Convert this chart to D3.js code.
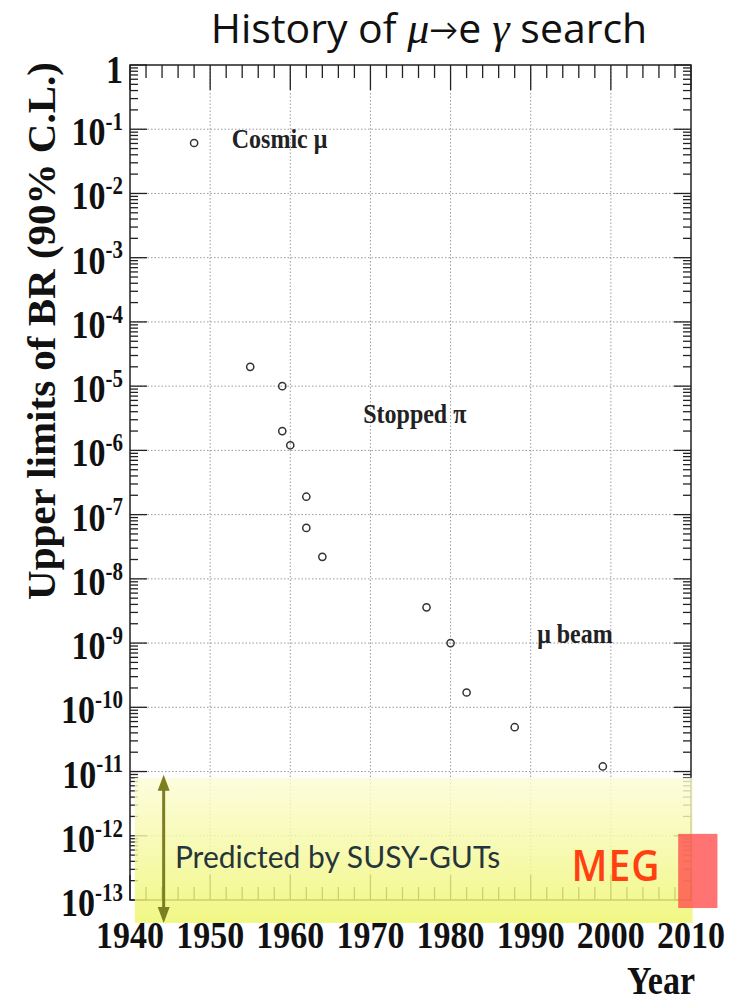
<!DOCTYPE html>
<html>
<head>
<meta charset="utf-8">
<script src="https://cdn.jsdelivr.net/npm/d3@7"></script>
<style>
  html, body { margin: 0; padding: 0; background: #fff; }
  svg { display: block; }
</style>
</head>
<body>
<svg id="chart" width="734" height="1003"></svg>
<script>
// ---------------- data ----------------
const years  = [1948, 1955, 1959, 1959, 1960, 1962, 1962, 1964, 1977, 1980, 1982, 1988, 1999];
const limits = [6.1e-2, 2.0e-5, 1.0e-5, 2.0e-6, 1.2e-6, 1.9e-7, 6.2e-8, 2.2e-8, 3.6e-9, 1.0e-9, 1.7e-10, 4.9e-11, 1.2e-11];

const xTickYears = [1940, 1950, 1960, 1970, 1980, 1990, 2000, 2010];
const yTickExps  = [0, -1, -2, -3, -4, -5, -6, -7, -8, -9, -10, -11, -12, -13];

const annotTexts  = ["Cosmic \u03bc", "Stopped \u03c0", "\u03bc beam"];
const annotYears  = [1952.7, 1969.1, 1990.8];
const annotValues = [5.1e-2, 2.7e-6, 1.0e-9];

const bandYears  = [1940.6, 2010.2];
const bandValues = [8.0e-12, 4.4e-14];
const arrowYear  = 1944.2;
const arrowValues = [8.9e-12, 4.4e-14];
const predictedText = "Predicted by SUSY-GUTs";
const predictedPos = [1945.6, 3.2e-13];
const megText = "MEG";
const megPos = [1995.1, 2.0e-13];
const megRectYears = [2008.4, 2013.3];
const megRectValues = [1.07e-12, 7.5e-14];

// ---------------- layout ----------------
const svg = d3.select("#chart");
const x = d3.scaleLinear().domain([1940, 2010]).range([130, 691]);
const y = d3.scaleLog().domain([1, 1e-13]).range([65, 900]);
const serif = "'Liberation Serif', 'Times New Roman', serif";
const sans = "Lato, 'Open Sans', sans-serif";

function stretched(g, px, py, k) {
  return g.append("text").attr("transform", `translate(${px},${py}) scale(1,${k})`);
}

// defs
const defs = svg.append("defs");
const grad = defs.append("linearGradient").attr("id", "bandGrad")
  .attr("x1", 0).attr("y1", 0).attr("x2", 0).attr("y2", 1);
grad.append("stop").attr("offset", "0%").attr("stop-color", "#fcfdd6");
grad.append("stop").attr("offset", "45%").attr("stop-color", "#f6f9a6");
grad.append("stop").attr("offset", "100%").attr("stop-color", "#eef66a");

const [x0, x1] = x.range();
const [y0, y1] = y.range();

// grid
const grid = svg.append("g").attr("stroke", "#9a9a9a").attr("stroke-width", 1).attr("stroke-dasharray", "1.5,2");
grid.selectAll("line.vx").data(xTickYears.slice(1, -1)).join("line")
  .attr("x1", d => x(d)).attr("x2", d => x(d)).attr("y1", y0).attr("y2", y1);
grid.selectAll("line.hy").data(yTickExps.slice(1, -1)).join("line")
  .attr("y1", d => y(Math.pow(10, d))).attr("y2", d => y(Math.pow(10, d))).attr("x1", x0).attr("x2", x1);

// axes ticks
const axes = svg.append("g").attr("stroke", "#222").attr("stroke-width", 1.3);
const xMinor = d3.range(1940, 2011, 2);
xMinor.forEach(yr => {
  const major = yr % 10 === 0;
  const L = major ? 25 : 13;
  axes.append("line").attr("x1", x(yr)).attr("x2", x(yr)).attr("y1", y1).attr("y2", y1 - L);
  axes.append("line").attr("x1", x(yr)).attr("x2", x(yr)).attr("y1", y0).attr("y2", y0 + L);
});
yTickExps.forEach(e => {
  const v = Math.pow(10, e);
  axes.append("line").attr("y1", y(v)).attr("y2", y(v)).attr("x1", x0).attr("x2", x0 + 17);
  axes.append("line").attr("y1", y(v)).attr("y2", y(v)).attr("x1", x1).attr("x2", x1 - 17);
  if (e > -13) {
    for (let m = 2; m <= 9; m++) {
      const vv = v * m / 10;
      axes.append("line").attr("y1", y(vv)).attr("y2", y(vv)).attr("x1", x0).attr("x2", x0 + 8);
      axes.append("line").attr("y1", y(vv)).attr("y2", y(vv)).attr("x1", x1).attr("x2", x1 - 8);
    }
  }
});
svg.append("rect").attr("x", x0).attr("y", y0).attr("width", x1 - x0).attr("height", y1 - y0)
  .attr("fill", "none").attr("stroke", "#222").attr("stroke-width", 1.5);

// data points
svg.append("g").selectAll("circle").data(years.map((d, i) => [d, limits[i]])).join("circle")
  .attr("cx", d => x(d[0])).attr("cy", d => y(d[1])).attr("r", 3.6)
  .attr("fill", "none").attr("stroke", "#333").attr("stroke-width", 1.5);

// annotations
annotTexts.forEach((t, i) => {
  stretched(svg, x(annotYears[i]), y(annotValues[i]), 1.18)
    .attr("font-family", serif).attr("font-weight", "bold").attr("font-size", 24)
    .attr("fill", "#222").text(t);
});

// yellow band (semi-transparent over axes)
svg.append("rect")
  .attr("x", x(bandYears[0])).attr("width", x(bandYears[1]) - x(bandYears[0]))
  .attr("y", y(bandValues[0])).attr("height", y(bandValues[1]) - y(bandValues[0]))
  .attr("fill", "url(#bandGrad)").attr("opacity", 0.82);

// arrow
const arrowColor = "#7d7d22";
const ax = x(arrowYear), ayTop = y(arrowValues[0]), ayBot = y(arrowValues[1]);
svg.append("line").attr("x1", ax).attr("x2", ax).attr("y1", ayTop + 10).attr("y2", ayBot - 10)
  .attr("stroke", arrowColor).attr("stroke-width", 3);
svg.append("path").attr("d", `M${ax},${ayTop} L${ax - 6},${ayTop + 16} L${ax + 6},${ayTop + 16} Z`).attr("fill", arrowColor);
svg.append("path").attr("d", `M${ax},${ayBot} L${ax - 6},${ayBot - 16} L${ax + 6},${ayBot - 16} Z`).attr("fill", arrowColor);

// predicted text
stretched(svg, x(predictedPos[0]), y(predictedPos[1]), 1.06)
  .attr("font-family", sans).attr("font-size", 30).attr("fill", "#26353b").text(predictedText);

// MEG
svg.append("rect")
  .attr("x", x(megRectYears[0])).attr("width", x(megRectYears[1]) - x(megRectYears[0]))
  .attr("y", y(megRectValues[0])).attr("height", y(megRectValues[1]) - y(megRectValues[0]))
  .attr("fill", "#ff4b4b").attr("opacity", 0.78);
stretched(svg, x(megPos[0]), y(megPos[1]), 1.12)
  .attr("font-family", "'Open Sans', Lato, sans-serif").attr("font-weight", 600).attr("font-size", 39)
  .attr("letter-spacing", 1).attr("fill", "#ff4010").text(megText);

// y tick labels
yTickExps.forEach(e => {
  const v = Math.pow(10, e);
  const t = stretched(svg, 123, y(v) + (e === 0 ? 18 : 16), 1.17)
    .attr("font-family", serif).attr("font-weight", "bold").attr("font-size", 34)
    .attr("text-anchor", "end").attr("fill", "#111");
  if (e === 0) {
    t.text("1");
  } else {
    t.append("tspan").text("10");
    t.append("tspan").attr("font-size", 21).attr("dy", -13).text(String(e));
  }
});

// x tick labels
xTickYears.forEach(yr => {
  stretched(svg, x(yr), 948, 1.1)
    .attr("font-family", serif).attr("font-weight", "bold").attr("font-size", 34)
    .attr("text-anchor", "middle").attr("fill", "#111").text(yr);
});

// axis titles
stretched(svg, 695, 994, 1.15)
  .attr("font-family", serif).attr("font-weight", "bold").attr("font-size", 34)
  .attr("text-anchor", "end").attr("fill", "#111").text("Year");

svg.append("text")
  .attr("transform", `translate(55,331) rotate(-90)`)
  .attr("font-family", serif).attr("font-weight", "bold").attr("font-size", 41)
  .attr("text-anchor", "middle").attr("fill", "#111").text("Upper limits of BR (90% C.L.)");

// title
const title = svg.append("text").attr("x", 429).attr("y", 43).attr("text-anchor", "middle")
  .attr("font-family", "'Open Sans', Lato, sans-serif").attr("font-size", 41).attr("fill", "#111");
title.append("tspan").text("History of ");
title.append("tspan").attr("font-family", serif).attr("font-style", "italic").attr("font-size", 44).text("\u03bc");
title.append("tspan").attr("font-size", 29).attr("dy", -3).text("\u2192");
title.append("tspan").attr("dy", 3).text("e");
title.append("tspan").attr("font-family", serif).attr("font-style", "italic").attr("font-size", 44).text(" \u03b3");
title.append("tspan").text("  search");
</script>
</body>
</html>
